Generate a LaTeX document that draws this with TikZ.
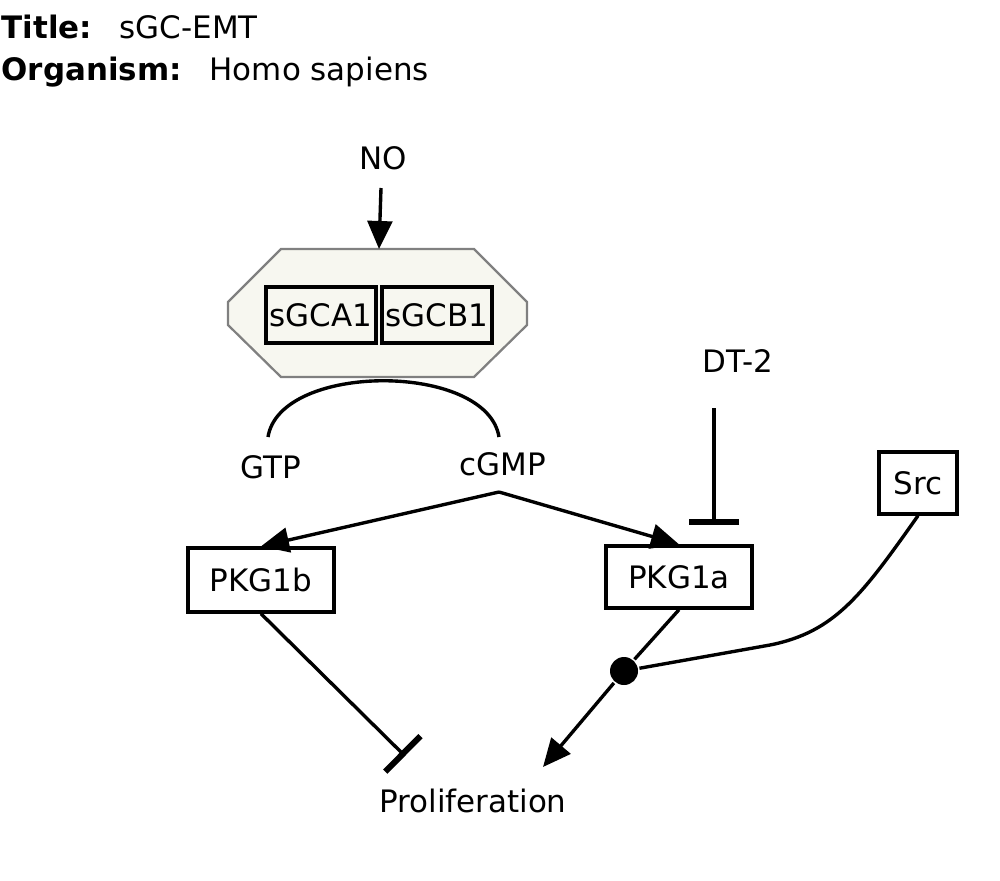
\documentclass[tikz,border=0pt]{standalone}
\usepackage{fontspec}
\setmainfont{DejaVu Sans}
\usetikzlibrary{arrows.meta}
\definecolor{cplxfill}{RGB}{247,247,240}
\definecolor{cplxdraw}{RGB}{128,128,128}

\begin{document}
\begin{tikzpicture}[x=0.025cm,y=-0.025cm,font=\fontsize{22}{26}\selectfont,line width=2.4pt,
  gene/.style={draw,line width=2.4pt,inner sep=0pt,minimum width=3.65cm,minimum height=1.55cm},
  sub/.style={draw,line width=2.4pt,inner sep=0pt,minimum width=2.75cm,minimum height=1.4cm},
  lbl/.style={anchor=base,inner sep=0pt},
  head/.style={anchor=base west,inner sep=0pt},
  act/.style={-{Triangle[length=0.7cm,width=0.62cm]}},
  inh/.style={-{Bar[width=1.25cm,line width=4.3pt]}}]
  \useasboundingbox (0,0) rectangle (1000,881);
  % header
  \node[head,font=\fontsize{22}{26}\selectfont\bfseries] (ttl) at (0,38) {Title:};
  \node[head] (ttlval) at (118,38) {sGC-EMT};
  \node[head,font=\fontsize{22}{26}\selectfont\bfseries] (org) at (0,80) {Organism:};
  \node[head] (orgval) at (208,80) {Homo sapiens};
  % complex
  \draw[fill=cplxfill,draw=cplxdraw,line width=1.6pt] (281,249) -- (474,249) -- (527,302) -- (527,325)
    -- (474,377) -- (281,377) -- (228,325) -- (228,302) -- cycle;
  \node[sub] (sgca) at (321,315) {sGCA1};
  \node[sub] (sgcb) at (437,315) {sGCB1};
  \coordinate (cplxtop) at (379,249);
  % labels
  \node[lbl] (no) at (383,169) {NO};
  \node[lbl] (gtp) at (271,478) {GTP};
  \node[lbl] (cgmp) at (503,475) {cGMP};
  \node[lbl] (dt2) at (738,372) {DT-2};
  \node[lbl] (prolif) at (473,812) {Proliferation};
  % genes
  \node[gene,minimum height=1.6cm] (pkgb) at (261,580) {PKG1b};
  \node[gene] (pkga) at (679,577) {PKG1a};
  \node[gene,minimum width=1.95cm] (src) at (918,483) {Src};
  \node[circle,fill,inner sep=0pt,minimum size=0.7cm] (dot) at (624,671) {};
  % end points
  \coordinate (noout) at (381,188);
  \coordinate (gtpin) at (268,437);
  \coordinate (cgmpin) at (499,437);
  \coordinate (cgmpout) at (499,492);
  \coordinate (dt2out) at (714,408);
  \coordinate (dt2end) at (714,525);
  \coordinate (pkgbend) at (405,756);
  \coordinate (prolifin) at (543,767);
  \coordinate (srcbend) at (770,645);
  % edges
  \draw[act] (noout) -- (cplxtop);
  \draw (gtpin) .. controls (280,362) and (487,362) .. (cgmpin);
  \draw[act] (cgmpout) -- (pkgb.north);
  \draw[act] (cgmpout) -- (pkga.north);
  \draw[inh] (dt2out) -- (dt2end);
  \draw[inh] (pkgb.south) -- (pkgbend);
  \draw (pkga.south) -- (dot);
  \draw[act] (dot) -- (prolifin);
  \draw (src.south) .. controls (862,595) and (835,632) .. (srcbend) -- (dot);
\end{tikzpicture}
\end{document}
